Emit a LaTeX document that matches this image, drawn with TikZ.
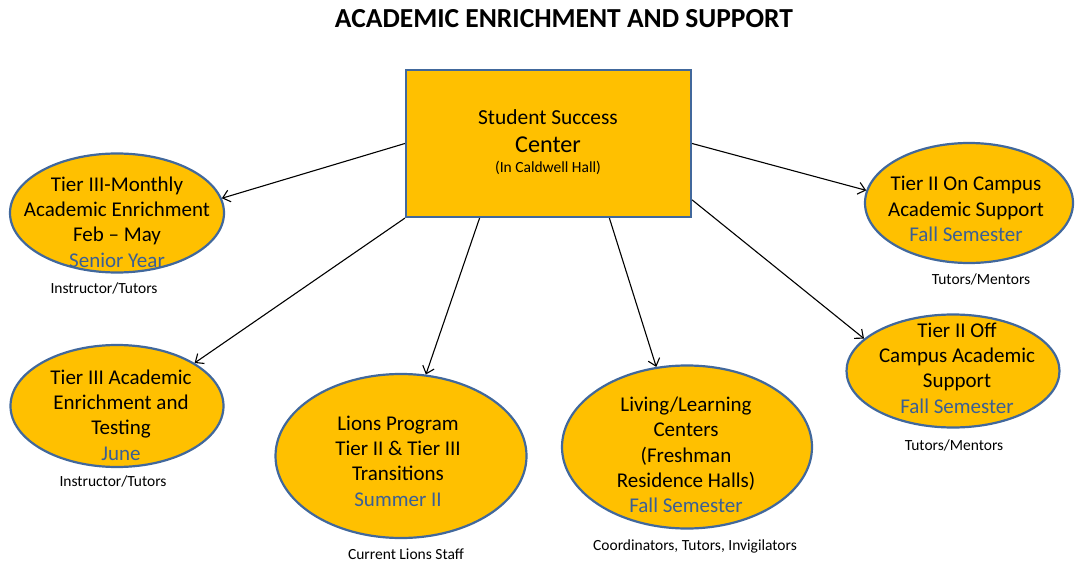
\documentclass[tikz,border=0pt]{standalone}
\usepackage{fontspec}
\setmainfont{Carlito}
\usetikzlibrary{shapes.geometric,arrows.meta,calc}
\definecolor{gold}{HTML}{FFC000}
\definecolor{edgeblue}{HTML}{41689C}
\definecolor{semblue}{HTML}{3A5F95}
\begin{document}
\begin{tikzpicture}[x=1pt,y=-1pt,
  ell/.style={ellipse, draw=edgeblue, line width=2.2pt, fill=gold, inner sep=0pt},
  box/.style={rectangle, draw=edgeblue, line width=2.2pt, fill=gold, inner sep=0pt},
  txt/.style={align=center, font=\fontsize{21}{25.3}\selectfont, inner sep=0pt},
  staff/.style={font=\fontsize{15.5}{17}\selectfont, inner sep=0pt},
  arr/.style={-{Straight Barb[length=7pt,width=12pt]}, line width=1.1pt}]
\useasboundingbox (0,0) rectangle (1075,564);

\node[font=\bfseries\fontsize{27.5}{30}\selectfont, inner sep=0pt] (title) at (564,19) {ACADEMIC ENRICHMENT AND SUPPORT};

% center box
\node[box, minimum width=285pt, minimum height=147pt] (ssc) at (548.5,143.5) {};
\node[anchor=base, font=\fontsize{21.4}{23}\selectfont, inner sep=0pt] (ssc1) at (548,124.5) {Student Success};
\node[anchor=base, font=\fontsize{24.2}{26}\selectfont, inner sep=0pt] (ssc2) at (548,153) {Center};
\node[anchor=base, font=\fontsize{15.5}{17}\selectfont, inner sep=0pt] (ssc3) at (548,172) {(In Caldwell Hall)};

% ellipses
\node[ell, minimum width=214pt, minimum height=119pt] (t3m) at (117,213) {};
\node[txt] (t3mt) at (117,222) {Tier III-Monthly\\Academic Enrichment\\Feb -- May\\\textcolor{semblue}{Senior Year}};
\node[staff] (t3ms) at (104,288) {Instructor/Tutors};

\node[ell, minimum width=213pt, minimum height=122pt] (t3a) at (117,406) {};
\node[txt] (t3at) at (121,415) {Tier III Academic\\Enrichment and\\Testing\\\textcolor{semblue}{June}};
\node[staff] (t3as) at (113,481) {Instructor/Tutors};

\node[ell, minimum width=251pt, minimum height=164pt] (lions) at (401,456) {};
\node[txt] (lionst) at (398,461) {Lions Program\\Tier II \& Tier III\\Transitions\\\textcolor{semblue}{Summer II}};
\node[staff] (lionss) at (406,554) {Current Lions Staff};

\node[ell, minimum width=250pt, minimum height=163pt] (living) at (687,447) {};
\node[txt] (livingt) at (686,455) {Living/Learning\\Centers\\(Freshman\\Residence Halls)\\\textcolor{semblue}{Fall Semester}};
\node[staff] (livings) at (695,546) {Coordinators, Tutors, Invigilators};

\node[ell, minimum width=208pt, minimum height=120pt] (t2on) at (969,203) {};
\node[txt] (t2ont) at (966,209) {Tier II On Campus\\Academic Support\\\textcolor{semblue}{Fall Semester}};
\node[staff] (t2ons) at (981,279) {Tutors/Mentors};

\node[ell, minimum width=213pt, minimum height=113pt] (t2off) at (953,371) {};
\node[txt] (t2offt) at (957,368) {Tier II Off\\Campus Academic\\Support\\\textcolor{semblue}{Fall Semester}};
\node[staff] (t2offs) at (954,445) {Tutors/Mentors};

% connectors
\draw[arr] (ssc.west) -- (t3m.8);
\draw[arr] (ssc.south west) -- (t3a.29);
\draw[arr] ($(ssc.south west)!0.26!(ssc.south east)$) -- (lions.73);
\draw[arr] ($(ssc.south west)!0.712!(ssc.south east)$) -- (living.111);
\draw[arr] (ssc.east) -- (t2on.173);
\draw[arr] ($(ssc.north east)!0.878!(ssc.south east)$) -- (t2off.160);
\end{tikzpicture}
\end{document}
